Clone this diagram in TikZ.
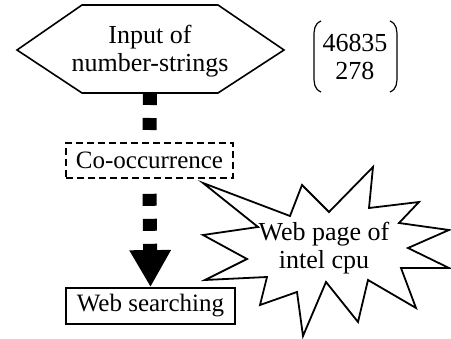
\documentclass[tikz,border=0pt]{standalone}
\usepackage{fontspec}
\setmainfont{Liberation Serif}
\usetikzlibrary{arrows.meta}
\tikzset{
  lbl/.style={inner sep=0pt, align=center, font=\fontsize{26}{28}\selectfont},
  boxlbl/.style={inner sep=0pt, align=center, font=\fontsize{25}{28}\selectfont},
  shapeline/.style={line width=1.6pt, line join=miter},
  bigdots/.style={line width=14pt, line cap=butt},
}
\begin{document}
\begin{tikzpicture}[x=1pt,y=-1pt]
\useasboundingbox (0,0) rectangle (451,339);
% hexagon
\draw[shapeline, fill=white] (17,50) -- (82,5) -- (218,5) -- (284,50) -- (218,93) -- (82,93) -- cycle;
\node[lbl] (hex) at (150,51) {Input of\\number-strings};
\coordinate (hexb) at (150,93);
% matrix
\node[lbl] (mat) at (355,57) {46835\\278};
\draw[line width=1.2pt] (321,21) .. controls (314,24) and (314,30) .. (314,38) -- (314,75) .. controls (314,83) and (314,89) .. (321,92);
\draw[line width=1.2pt] (390,21) .. controls (397,24) and (397,30) .. (397,38) -- (397,75) .. controls (397,83) and (397,89) .. (390,92);
% co-occurrence
\node[boxlbl, draw, line width=1.6pt, dash pattern=on 7pt off 4pt, minimum width=167pt, minimum height=35pt] (co) at (149.5,160.5) {Co-occurrence};
% web searching
\node[boxlbl, draw, line width=1.8pt, minimum width=169pt, minimum height=36pt] (ws) at (150.5,306) {Web searching};
% connectors
\draw[bigdots, dash pattern=on 12pt off 13pt] (hexb) -- (co.north);
\draw[bigdots, dash pattern=on 0pt off 15pt on 12pt off 13pt on 12pt off 13pt on 100pt, -{Triangle[length=37pt,width=39pt]}] (co.south) -- (ws.north);
% star
\draw[line width=1.8pt, line join=miter, fill=white] (203,183) -- (290,216) -- (302,185) -- (329,212) -- (373,167) -- (369,208) -- (419,202) -- (399,223) -- (449,230) -- (408,248) -- (449,268) -- (401,268) -- (416,308) -- (368,280) -- (358,322) -- (326,282) -- (303,336) -- (297,292) -- (260,305) -- (267,277) -- (205,280) -- (247,259) -- (203,235) -- (258,227) -- cycle;
\node[lbl] (star) at (324,248) {Web page of\\intel cpu};
\end{tikzpicture}
\end{document}
